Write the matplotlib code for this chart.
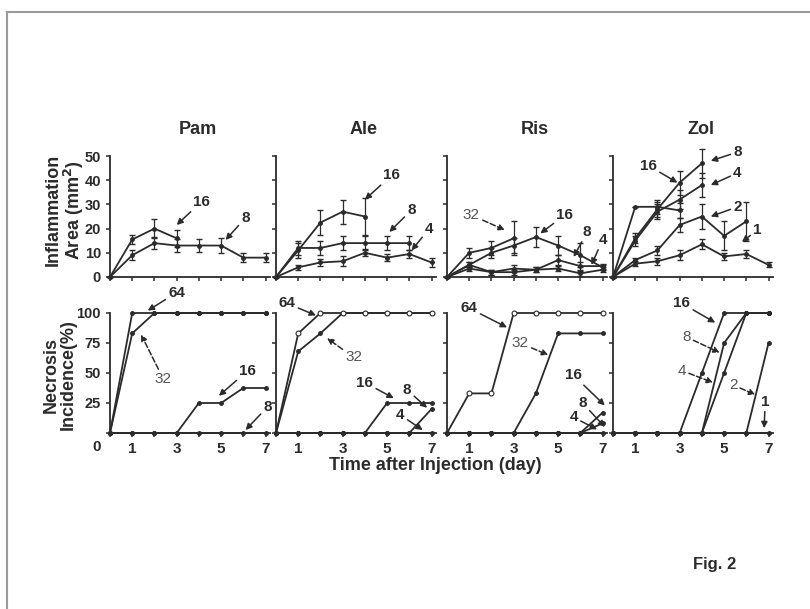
import matplotlib.pyplot as plt
from matplotlib.lines import Line2D

plt.rcParams['font.family'] = ['Liberation Sans', 'DejaVu Sans']

days = [0, 1, 2, 3, 4, 5, 6, 7]
drugs = ["Pam", "Ale", "Ris", "Zol"]

# Inflammation area (mm^2): {dose: (values, error)}
area = {
    "Pam": {
        "16": ([0, 15.5, 20, 16], [0, 2, 4, 3.5]),
        "8": ([0, 9, 14, 13, 13, 13, 8, 8], [0, 2, 2.5, 2.5, 2.5, 3, 2, 2]),
    },
    "Ale": {
        "16": ([0, 11, 22.5, 27, 25], [0, 3, 5, 5, 7.5]),
        "8": ([0, 12, 12, 14, 14, 14, 14], [0, 3, 3, 3, 3, 3, 3]),
        "4": ([0, 4, 6, 6.5, 10, 8, 9.5, 6], [0, 1, 1.5, 2, 1.5, 1.5, 1.5, 2]),
    },
    "Ris": {
        "32": ([0, 10, 12, 16], [0, 2, 3, 7]),
        "16": ([0, 5, 10, 13, 16.5, 13, 9, 4], [0, 1, 2, 3, 4, 4, 5, 1]),
        "8": ([0, 5, 2, 3.5, 3, 7, 4.5, 4.5], [0, 1, 1, 1.5, 1, 2, 1.5, 1]),
        "4": ([0, 3.5, 2, 2, 3, 3.5, 1.5, 3], [0, 1, 1, 1, 1, 1, 1, 1]),
    },
    "Zol": {
        "16": ([0, 29, 29, 27.5], [0, 0, 3, 3]),
        "8": ([0, 16, 28, 39, 47], [0, 2, 3, 5, 6]),
        "4": ([0, 15, 27, 32, 38], [0, 2, 3, 4, 5]),
        "2": ([0, 7, 11, 21.5, 25, 17, 23], [0, 1, 2, 3, 5, 6, 8]),
        "1": ([0, 5.5, 6.5, 9, 13.5, 8.5, 9.5, 5], [0, 1, 1.5, 2, 2, 1.5, 1.5, 1]),
    },
}

# Necrosis incidence (%)
necrosis = {
    "Pam": {
        "64": [0, 100, 100, 100, 100, 100, 100, 100],
        "32": [0, 83, 100, 100, 100, 100, 100, 100],
        "16": [0, 0, 0, 0, 25, 25, 37.5, 37.5],
        "8": [0, 0, 0, 0, 0, 0, 0, 0],
    },
    "Ale": {
        "64": [0, 83, 100, 100, 100, 100, 100, 100],
        "32": [0, 68, 83, 100, 100, 100, 100, 100],
        "16": [0, 0, 0, 0, 0, 25, 25, 25],
        "8": [0, 0, 0, 0, 0, 0, 0, 20],
        "4": [0, 0, 0, 0, 0, 0, 0, 0],
    },
    "Ris": {
        "64": [0, 33, 33, 100, 100, 100, 100, 100],
        "32": [0, 0, 0, 0, 33, 83, 83, 83],
        "16": [0, 0, 0, 0, 0, 0, 0, 17],
        "8": [0, 0, 0, 0, 0, 0, 0, 8],
        "4": [0, 0, 0, 0, 0, 0, 0, 0],
    },
    "Zol": {
        "16": [0, 0, 0, 0, 50, 100, 100, 100],
        "8": [0, 0, 0, 0, 0, 75, 100, 100],
        "4": [0, 0, 0, 0, 0, 50, 100, 100],
        "2": [0, 0, 0, 0, 0, 0, 0, 75],
        "1": [0, 0, 0, 0, 0, 0, 0, 0],
    },
}
open_markers = {("Ale", "64"), ("Ris", "64")}

# arrow labels: (text, text pos, arrow tip, dashed)
area_labels = {
    "Pam": [("16", (4.1, 31), (3.0, 21.5), False), ("8", (6.1, 24.5), (5.2, 15.3), False)],
    "Ale": [("16", (5.2, 42), (4.0, 32), False), ("8", (6.1, 27.7), (5.1, 18.6), False),
            ("4", (6.9, 20), (6.1, 11), False)],
    "Ris": [("32", (1.1, 25.6), (2.6, 19.4), True), ("16", (5.3, 25.6), (4.2, 18), False),
            ("8", (6.3, 18.6), (5.7, 8.3), False), ("4", (7.0, 15.3), (6.5, 5), False)],
    "Zol": [("8", (5.6, 51.6), (4.4, 48), False), ("16", (1.6, 46), (2.9, 39), False),
            ("4", (5.6, 43), (4.4, 38), False), ("2", (5.6, 29), (4.4, 25), False),
            ("1", (6.5, 19.4), (5.8, 14.5), False)],
}
necrosis_labels = {
    "Pam": [("64", (3.0, 117), (1.7, 102), False), ("32", (2.4, 45), (1.4, 82), True),
            ("16", (6.2, 52), (4.9, 31), False), ("8", (7.1, 22), (6.1, 2.5), False)],
    "Ale": [("64", (0.5, 108), (1.8, 98), False), ("32", (3.5, 63), (2.3, 79), True),
            ("16", (4.0, 42), (5.3, 29), False), ("8", (5.9, 36), (6.8, 21), False),
            ("4", (5.6, 15), (6.6, 2.5), False)],
    "Ris": [("64", (1.0, 104), (2.7, 88), False), ("32", (3.3, 75), (4.55, 65), True),
            ("16", (5.7, 48), (7.1, 23), False), ("8", (6.1, 25), (7.1, 5), False),
            ("4", (5.7, 13), (6.75, 3), False)],
    "Zol": [("16", (3.1, 108), (4.6, 92), False), ("8", (3.3, 80), (4.8, 67), True),
            ("4", (3.1, 52), (4.5, 42), True), ("2", (5.4, 40), (6.4, 32), True),
            ("1", (6.85, 26), (6.8, 4), False)],
}

ink = "#2b2b2b"
fig = plt.figure(figsize=(8.1, 6.09), dpi=100)

lefts = [110, 276, 447, 613]
W, H = 810, 609


def add_labels(ax, items):
    for txt, pos, tip, dashed in items:
        ax.annotate(txt, xy=tip, xytext=pos, ha="center", va="center",
                    fontsize=11, fontweight="normal" if dashed else "bold",
                    color="#555555" if dashed else ink, annotation_clip=False,
                    arrowprops=dict(arrowstyle="-|>", color=ink, lw=1.1,
                                    linestyle="--" if dashed else "-",
                                    mutation_scale=9, shrinkA=0, shrinkB=0))


for i, drug in enumerate(drugs):
    x0 = lefts[i] / W
    w = 160 / W
    ax1 = fig.add_axes([x0, 1 - 277 / H, w, 121 / H])
    ax2 = fig.add_axes([x0, 1 - 433 / H, w, 120 / H])

    for dose, (vals, err) in area[drug].items():
        ax1.errorbar(days[:len(vals)], vals, yerr=err, color=ink, lw=1.3,
                     marker="o", ms=2.5, capsize=2, elinewidth=0.9, clip_on=False)
    for dose, vals in necrosis[drug].items():
        if (drug, dose) in open_markers:
            nz = [k for k, v in enumerate(vals) if v > 0]
            ax2.plot(days, vals, color=ink, lw=1.3, marker="o", ms=3.5,
                     mfc="white", mew=0.8, clip_on=False, zorder=4, markevery=nz)
        else:
            ax2.plot(days, vals, color=ink, lw=1.3, marker="o", ms=2.5, clip_on=False)

    add_labels(ax1, area_labels[drug])
    add_labels(ax2, necrosis_labels[drug])

    for ax in (ax1, ax2):
        ax.set_xlim(0, 7.2)
        ax.spines["top"].set_visible(False)
        ax.spines["right"].set_visible(False)
        for s in ("left", "bottom"):
            ax.spines[s].set_color(ink)
            ax.spines[s].set_linewidth(1.3)
        ax.tick_params(colors=ink, width=1.1, length=3, labelsize=10.5)
        ax.set_xticks(days)
    ax1.set_ylim(0, 50)
    ax1.set_yticks([0, 10, 20, 30, 40, 50])
    ax1.set_xticklabels([])
    ax2.set_ylim(0, 100)
    ax2.set_yticks([0, 25, 50, 75, 100])
    ax2.set_xticklabels(["", "1", "", "3", "", "5", "", "7"], fontweight="bold", fontsize=11)
    if i == 0:
        ax1.set_yticklabels(["0", "10", "20", "30", "40", "50"], fontweight="bold")
        ax2.set_yticklabels(["", "25", "50", "75", "100"], fontweight="bold")
    else:
        ax1.set_yticklabels([])
        ax2.set_yticklabels([])

    fig.text((lefts[i] + 88) / W, 1 - 130 / H, drug, ha="center", va="center",
             fontsize=13, fontweight="bold", color=ink)

fig.text(97 / W, 1 - 447 / H, "0", ha="center", va="center", fontsize=11,
         fontweight="bold", color=ink)
fig.text(65 / W, 1 - 210 / H, "Inflammation\nArea (mm$^\\mathbf{2}$)", rotation=90,
         ha="center", va="center", fontsize=13, fontweight="bold", color=ink,
         linespacing=1.0)
fig.text(60 / W, 1 - 375 / H, "Necrosis\nIncidence(%)", rotation=90,
         ha="center", va="center", fontsize=13, fontweight="bold", color=ink,
         linespacing=1.0)
fig.text(435 / W, 1 - 466 / H, "Time after Injection (day)", ha="center", va="center",
         fontsize=13, fontweight="bold", color=ink)
fig.text(715 / W, 1 - 565 / H, "Fig. 2", ha="center", va="center",
         fontsize=12, fontweight="bold", color=ink)

# scanned page frame
fig.add_artist(Line2D([7 / W, 1], [1 - 12 / H, 1 - 12 / H], color="#9a9a9a", lw=1.5))
fig.add_artist(Line2D([7 / W, 7 / W], [0, 1 - 12 / H], color="#9a9a9a", lw=1.5))

fig.savefig("out.png", dpi=100)
